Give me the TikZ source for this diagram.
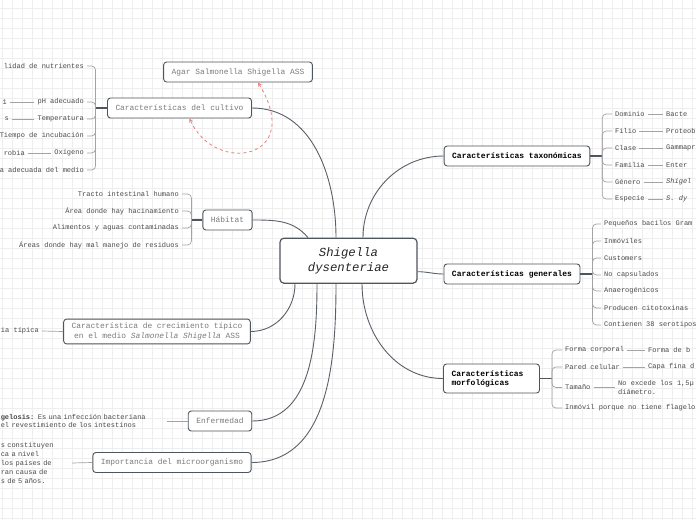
\documentclass[tikz,border=0pt]{standalone}
\usepackage{fontspec}
\setmainfont{Liberation Mono}
\usetikzlibrary{positioning}
\definecolor{linkgray}{HTML}{5A6068}
\definecolor{boxline}{HTML}{4F555C}
\definecolor{brackgray}{HTML}{A3A3A3}
\definecolor{leafgray}{HTML}{4A4A4A}
\definecolor{topicgray}{HTML}{7B7B7B}
\definecolor{gridgray}{HTML}{EEEEEE}
\definecolor{relred}{HTML}{F47C7C}

\begin{document}
\begin{tikzpicture}[x=1pt, y=-1pt,
  topic/.style={draw=boxline, line width=0.9pt, rounded corners=3pt, fill=white, inner xsep=8pt, inner ysep=3pt, minimum height=20pt, font=\fontsize{7.9}{9.5}\selectfont},
  topicL/.style={topic, text=topicgray},
  topicR/.style={topic, text=black, font=\fontsize{8}{9}\selectfont\bfseries},
  central/.style={draw=boxline, line width=1.2pt, rounded corners=4pt, fill=white, minimum width=137pt, minimum height=45pt, align=center, font=\fontsize{12.3}{15}\selectfont\itshape, text=black!85},
  leaf/.style={text=leafgray, inner xsep=3pt, inner ysep=1pt, font=\fontsize{7}{9}\selectfont},
  leafL/.style={leaf, anchor=east},
  leafR/.style={leaf, anchor=west},
  link/.style={draw=linkgray, line width=0.9pt},
  stub/.style={draw=boxline, line width=1.5pt},
  bracket/.style={draw=brackgray, line width=0.7pt, rounded corners=4pt},
  twig/.style={draw=brackgray, line width=0.7pt},
  relation/.style={draw=relred, dashed, line width=0.8pt, <->, >=stealth}
]
\useasboundingbox (0,0) rectangle (696,520);
\clip (0,0) rectangle (696,520);
\fill[white] (0,0) rectangle (696,520);
% grid
\foreach \gx in {2,12,...,692} \draw[gridgray, line width=0.5pt] (\gx,0) -- (\gx,520);
\foreach \gy in {8,18,...,518} \draw[gridgray, line width=0.5pt] (0,\gy) -- (696,\gy);

% central topic
\node[central] (main) at (348.5,260.7) {Shigella\\dysenteriae};

% left side
\node[topicL] (cultivo) at (179.5,108) {Características del cultivo};
\node[topicL] (agar) at (238,72) {Agar Salmonella Shigella ASS};
\node[topicL] (habitat) at (227.5,220) {Hábitat};
\node[topicL, align=center, inner ysep=4pt] (crecimiento) at (157,331.5) {Característica de crecimiento típico\\en el medio \textit{Salmonella Shigella} ASS};
\node[topicL] (enfermedad) at (220,421) {Enfermedad};
\node[topicL] (importancia) at (172,462.5) {Importancia del microorganismo};

\node[leafL] (nutrientes) at (87,66) {lidad de nutrientes};
\node[leafL] (ph) at (87,102) {pH adecuado};
\node[leafL] (phval) at (10,102) {1};
\node[leafL] (temp) at (87,119) {Temperatura};
\node[leafL] (tempval) at (12,119) {s};
\node[leafL] (incubacion) at (87,136) {Tiempo de incubación};
\node[leafL] (oxigeno) at (87,153) {Oxígeno};
\node[leafL] (oxival) at (28,153) {robia};
\node[leafL] (medio) at (87,170) {a adecuada del medio};

\node[leafL] (tracto) at (182,194) {Tracto intestinal humano};
\node[leafL] (hacinamiento) at (182,211) {Área donde hay hacinamiento};
\node[leafL] (alimentos) at (182,228) {Alimentos y aguas contaminadas};
\node[leafL] (residuos) at (182,245) {Áreas donde hay mal manejo de residuos};

\node[leafL] (tipica) at (42,331) {ia típica};
\node[leafL, text width=163pt, align=left] (shigelosis) at (167,421) {\textbf{gelosis:} Es una infección bacteriana\\el revestimiento de los intestinos};
\node[leafL, text width=68pt, align=left] (relevancia) at (72,463) {s constituyen\\ca a nivel\\los países de\\ran causa de\\s de 5 años.};

% right side
\node[topicR] (taxonomia) at (517,156) {Características taxonómicas};
\node[topicR] (generales) at (512,274) {Características generales};
\node[topicR, text width=80pt, align=left, minimum height=29pt] (morfologia) at (491.5,378.5) {Características\\morfológicas};

\node[leafR] (dominio) at (612,114) {Dominio};
\node[leafR] (dominioval) at (663,114) {Bacte};
\node[leafR] (filo) at (612,131) {Filio};
\node[leafR] (filoval) at (663,131) {Proteob};
\node[leafR] (clase) at (612,148) {Clase};
\node[leafR] (claseval) at (663,148) {Gammapr};
\node[leafR] (familia) at (612,165) {Familia};
\node[leafR] (familiaval) at (663,165) {Enter};
\node[leafR] (genero) at (612,182) {Género};
\node[leafR] (generoval) at (663,182) {\textit{Shigel}};
\node[leafR] (especie) at (612,199) {Especie};
\node[leafR] (especieval) at (663,199) {\textit{S. dy}};

\node[leafR] (bacilos) at (601,224) {Pequeños bacilos Gram};
\node[leafR] (inmoviles) at (601,241) {Inmóviles};
\node[leafR] (customers) at (601,258) {Customers};
\node[leafR] (capsulados) at (601,275) {No capsulados};
\node[leafR] (anaerogenicos) at (601,291) {Anaerogénicos};
\node[leafR] (citotoxinas) at (601,308) {Producen citotoxinas};
\node[leafR] (serotipos) at (601,325) {Contienen 38 serotipos};

\node[leafR] (forma) at (562,350) {Forma corporal};
\node[leafR] (formaval) at (645,350) {Forma de b};
\node[leafR] (pared) at (562,367) {Pared celular};
\node[leafR] (paredval) at (645,367) {Capa fina d};
\node[leafR] (tamano) at (562,387.5) {Tamaño};
\node[leafR, align=left] (tamanoval) at (615,387.5) {No excede los 1,5µ\\diámetro.};
\node[leafR] (inmovil) at (562,408) {Inmóvil porque no tiene flagelo};

% branches from the central topic
\draw[link] ([xshift=-12.5pt]main.north) to[out=90,in=0] (cultivo.east);
\draw[link] ([xshift=-40.5pt]main.north) to[out=130,in=0] (habitat.east);
\draw[link] ([xshift=-53.5pt]main.south) to[out=-90,in=0] (crecimiento.east);
\draw[link] ([xshift=-31.5pt]main.south) to[out=-90,in=0] (enfermedad.east);
\draw[link] ([xshift=-12.5pt]main.south) to[out=-90,in=0] (importancia.east);
\draw[link] ([xshift=14.5pt]main.north) to[out=90,in=180] (taxonomia.west);
\draw[link] ([yshift=-11pt]main.east) to[out=0,in=180] (generales.west);
\draw[link] ([xshift=13.5pt]main.south) to[out=-90,in=180] (morfologia.west);

% cultivo
\draw[stub] (cultivo.west) -- ++(-11.5,0);
\draw[bracket] (cultivo.west) ++(-11.5,0) |- (nutrientes.east);
\draw[bracket] (cultivo.west) ++(-11.5,0) |- (ph.east);
\draw[bracket] (cultivo.west) ++(-11.5,0) |- (temp.east);
\draw[bracket] (cultivo.west) ++(-11.5,0) |- (incubacion.east);
\draw[bracket] (cultivo.west) ++(-11.5,0) |- (oxigeno.east);
\draw[bracket] (cultivo.west) ++(-11.5,0) |- (medio.east);
\draw[twig] (ph.west) -- (phval.east);
\draw[twig] (temp.west) -- (tempval.east);
\draw[twig] (oxigeno.west) -- (oxival.east);
\draw[relation] ([xshift=10pt]cultivo.south) .. controls (215,175) and (305,160) .. ([xshift=20pt]agar.south);

% habitat
\draw[stub] (habitat.west) -- ++(-11,0);
\draw[bracket] (habitat.west) ++(-11,0) |- (tracto.east);
\draw[bracket] (habitat.west) ++(-11,0) |- (hacinamiento.east);
\draw[bracket] (habitat.west) ++(-11,0) |- (alimentos.east);
\draw[bracket] (habitat.west) ++(-11,0) |- (residuos.east);

\draw[twig] (crecimiento.west) -- (tipica.east);
\draw[twig] (enfermedad.west) -- (shigelosis.east);
\draw[twig] (importancia.west) -- (relevancia.east);

% taxonomia
\draw[stub] (taxonomia.east) -- ++(12,0);
\draw[bracket] (taxonomia.east) ++(12,0) |- (dominio.west);
\draw[bracket] (taxonomia.east) ++(12,0) |- (filo.west);
\draw[bracket] (taxonomia.east) ++(12,0) |- (clase.west);
\draw[bracket] (taxonomia.east) ++(12,0) |- (familia.west);
\draw[bracket] (taxonomia.east) ++(12,0) |- (genero.west);
\draw[bracket] (taxonomia.east) ++(12,0) |- (especie.west);
\draw[twig] (dominio.east) -- (dominioval.west);
\draw[twig] (filo.east) -- (filoval.west);
\draw[twig] (clase.east) -- (claseval.west);
\draw[twig] (familia.east) -- (familiaval.west);
\draw[twig] (genero.east) -- (generoval.west);
\draw[twig] (especie.east) -- (especieval.west);

% generales
\draw[stub] (generales.east) -- ++(12,0);
\draw[bracket] (generales.east) ++(12,0) |- (bacilos.west);
\draw[bracket] (generales.east) ++(12,0) |- (inmoviles.west);
\draw[bracket] (generales.east) ++(12,0) |- (customers.west);
\draw[bracket] (generales.east) ++(12,0) |- (capsulados.west);
\draw[bracket] (generales.east) ++(12,0) |- (anaerogenicos.west);
\draw[bracket] (generales.east) ++(12,0) |- (citotoxinas.west);
\draw[bracket] (generales.east) ++(12,0) |- (serotipos.west);

% morfologia
\draw[stub] (morfologia.east) -- ++(12,0);
\draw[bracket] (morfologia.east) ++(12,0) |- (forma.west);
\draw[bracket] (morfologia.east) ++(12,0) |- (pared.west);
\draw[bracket] (morfologia.east) ++(12,0) |- (tamano.west);
\draw[bracket] (morfologia.east) ++(12,0) |- (inmovil.west);
\draw[twig] (forma.east) -- (formaval.west);
\draw[twig] (pared.east) -- (paredval.west);
\draw[twig] (tamano.east) -- (tamanoval.west);
\end{tikzpicture}
\end{document}
